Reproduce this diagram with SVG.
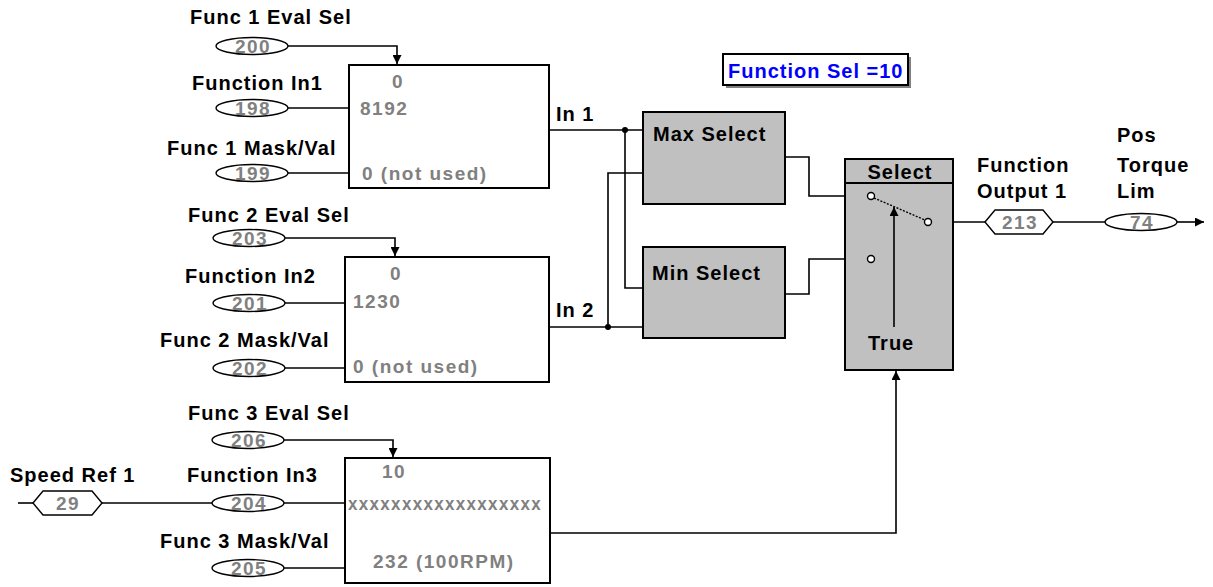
<svg xmlns="http://www.w3.org/2000/svg" width="1213" height="587" viewBox="0 0 1213 587">
  <style>
    .lbl { font-family: "Liberation Sans", Arial, sans-serif; font-weight: bold; font-size: 20px; letter-spacing: 1px; fill: #000; }
    .num { font-family: "Liberation Sans", Arial, sans-serif; font-weight: bold; font-size: 19px; letter-spacing: 1.5px; fill: #808080; }
    .mid { text-anchor: middle; }
    .sel { font-family: "Liberation Sans", Arial, sans-serif; font-weight: bold; font-size: 20px; letter-spacing: 1px; fill: #0000ff; }
    .box { fill: #fff; stroke: #000; stroke-width: 2; }
    .gbox { fill: #c0c0c0; stroke: #000; stroke-width: 2; }
    .param { fill: #fff; stroke: #000; stroke-width: 1.4; }
    .wire { fill: none; stroke: #000; stroke-width: 1.6; }
    .port { fill: #fff; stroke: #000; stroke-width: 1.4; }
  </style>
  <defs>
    <marker id="arr" viewBox="0 0 10 10" refX="10" refY="5" markerWidth="9" markerHeight="9" markerUnits="userSpaceOnUse" orient="auto">
      <path d="M0,0 L10,5 L0,10 Z" fill="#000"/>
    </marker>
  </defs>

  <!-- connectors -->
  <g id="connectors">
    <path class="wire" d="M288,46 H397 V64" marker-end="url(#arr)"/>
    <path class="wire" d="M288,108 H349"/>
    <path class="wire" d="M288,173 H349"/>
    <path class="wire" d="M285,238 H395 V256" marker-end="url(#arr)"/>
    <path class="wire" d="M285,303 H345"/>
    <path class="wire" d="M285,368 H345"/>
    <path class="wire" d="M284,440 H393 V457" marker-end="url(#arr)"/>
    <path class="wire" d="M18,503 H33"/>
    <path class="wire" d="M102,503 H212"/>
    <path class="wire" d="M284,503 H345"/>
    <path class="wire" d="M284,568 H345"/>
    <!-- In 1 / In 2 buses -->
    <path class="wire" d="M549,130 H643"/>
    <path class="wire" d="M625,130 V288 H643"/>
    <path class="wire" d="M643,173 H608 V327"/>
    <path class="wire" d="M549,327 H643"/>
    <circle cx="625" cy="130" r="3" fill="#000"/>
    <circle cx="608" cy="327" r="3" fill="#000"/>
    <!-- selector outputs into switch -->
    <path class="wire" d="M785,157 H809 V196 H867"/>
    <path class="wire" d="M785,294 H809 V259 H867"/>
    <!-- output chain -->
    <path class="wire" d="M932,222 H985"/>
    <path class="wire" d="M1053,222 H1105"/>
    <path class="wire" d="M1177,222 H1204" marker-end="url(#arr)"/>
    <!-- function 3 result drives the select condition -->
    <path class="wire" d="M550,533 H896 V371" marker-end="url(#arr)"/>
  </g>

  <!-- function 1 -->
  <g id="func1">
    <text class="lbl" x="190" y="24">Func 1 Eval Sel</text>
    <ellipse class="param" cx="252" cy="46" rx="36" ry="8.5"/>
    <text class="num mid" x="253" y="53">200</text>
    <text class="lbl" x="192" y="90">Function In1</text>
    <ellipse class="param" cx="252" cy="108" rx="36" ry="8.5"/>
    <text class="num mid" x="253" y="115">198</text>
    <text class="lbl" x="167" y="155">Func 1 Mask/Val</text>
    <ellipse class="param" cx="252" cy="173" rx="36" ry="8.5"/>
    <text class="num mid" x="253" y="180">199</text>
    <rect class="box" x="349" y="65" width="200" height="123"/>
    <text class="num mid" x="398" y="88">0</text>
    <text class="num" x="360" y="115">8192</text>
    <text class="num" x="362" y="180">0 (not used)</text>
  </g>

  <!-- function 2 -->
  <g id="func2">
    <text class="lbl" x="188" y="222">Func 2 Eval Sel</text>
    <ellipse class="param" cx="249" cy="238" rx="36" ry="8.5"/>
    <text class="num mid" x="250" y="245">203</text>
    <text class="lbl" x="185" y="283">Function In2</text>
    <ellipse class="param" cx="249" cy="303" rx="36" ry="8.5"/>
    <text class="num mid" x="250" y="310">201</text>
    <text class="lbl" x="160" y="347">Func 2 Mask/Val</text>
    <ellipse class="param" cx="249" cy="368" rx="36" ry="8.5"/>
    <text class="num mid" x="250" y="375">202</text>
    <rect class="box" x="345" y="257" width="204" height="125"/>
    <text class="num mid" x="396" y="280">0</text>
    <text class="num" x="353" y="308">1230</text>
    <text class="num" x="353" y="373">0 (not used)</text>
  </g>

  <!-- function 3 -->
  <g id="func3">
    <text class="lbl" x="188" y="420">Func 3 Eval Sel</text>
    <ellipse class="param" cx="248" cy="440" rx="36" ry="8.5"/>
    <text class="num mid" x="249" y="447">206</text>
    <text class="lbl" x="187" y="482">Function In3</text>
    <ellipse class="param" cx="248" cy="503" rx="36" ry="8.5"/>
    <text class="num mid" x="249" y="510">204</text>
    <text class="lbl" x="160" y="548">Func 3 Mask/Val</text>
    <ellipse class="param" cx="248" cy="568" rx="36" ry="8.5"/>
    <text class="num mid" x="249" y="575">205</text>
    <rect class="box" x="345" y="458" width="205" height="125"/>
    <text class="num" x="382" y="478">10</text>
    <text class="num" x="348" y="510" textLength="194" lengthAdjust="spacingAndGlyphs">xxxxxxxxxxxxxxxxxx</text>
    <text class="num" x="373" y="568">232 (100RPM)</text>
  </g>

  <!-- speed reference source -->
  <g id="speedref">
    <text class="lbl" x="10" y="482">Speed Ref 1</text>
    <polygon class="param" points="33,503 43,491 92,491 102,503 92,515 43,515"/>
    <text class="num mid" x="68" y="510">29</text>
  </g>

  <!-- max / min selectors -->
  <g id="maxsel">
    <rect class="gbox" x="643" y="112" width="142" height="92"/>
    <text class="lbl" x="653" y="141">Max Select</text>
  </g>
  <g id="minsel">
    <rect class="gbox" x="643" y="247" width="142" height="91"/>
    <text class="lbl" x="652" y="280">Min Select</text>
  </g>
  <text class="lbl" x="556" y="121">In 1</text>
  <text class="lbl" x="556" y="317">In 2</text>

  <!-- switch -->
  <g id="select">
    <rect class="gbox" x="845" y="159" width="108" height="211"/>
    <line x1="845" y1="183" x2="953" y2="183" stroke="#000" stroke-width="2"/>
    <text class="lbl mid" x="900" y="179">Select</text>
    <line x1="874" y1="198" x2="925" y2="220" stroke="#000" stroke-width="1.4" stroke-dasharray="2,1.5"/>
    <circle class="port" cx="871" cy="196" r="3.5"/>
    <circle class="port" cx="928" cy="222" r="3.5"/>
    <circle class="port" cx="871" cy="259" r="3.5"/>
    <path class="wire" d="M894,327 V207" marker-end="url(#arr)"/>
    <text class="lbl" x="868" y="350">True</text>
  </g>

  <!-- output parameters -->
  <g id="out213">
    <text class="lbl" x="977" y="172">Function</text>
    <text class="lbl" x="977" y="198">Output 1</text>
    <polygon class="param" points="985,222 995,210 1043,210 1053,222 1043,234 995,234"/>
    <text class="num mid" x="1020" y="229">213</text>
  </g>
  <g id="out74">
    <text class="lbl" x="1117" y="142">Pos</text>
    <text class="lbl" x="1117" y="172">Torque</text>
    <text class="lbl" x="1117" y="198">Lim</text>
    <ellipse class="param" cx="1141" cy="222" rx="36" ry="8.5"/>
    <text class="num mid" x="1142" y="229">74</text>
  </g>

  <!-- function select indicator -->
  <g id="funcsel">
    <rect x="726" y="57" width="185" height="31" fill="#808080"/>
    <rect class="box" x="723" y="54" width="185" height="31"/>
    <text class="sel" x="728" y="78">Function Sel =10</text>
  </g>
</svg>
